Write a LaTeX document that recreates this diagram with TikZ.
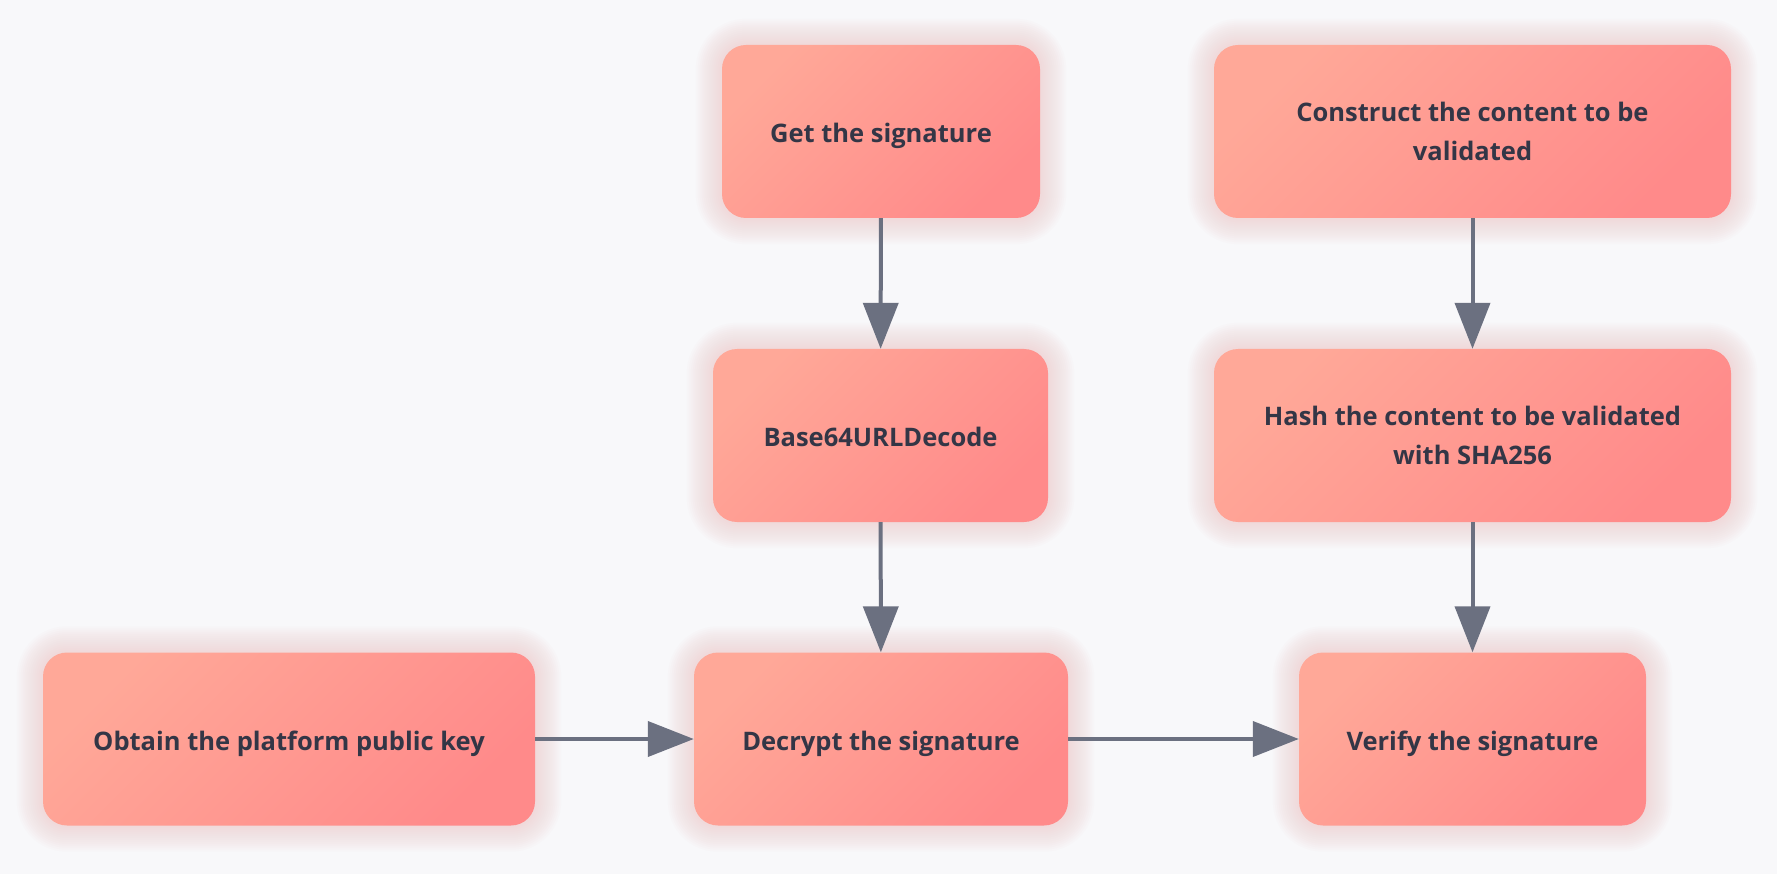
\documentclass[tikz,border=0pt]{standalone}
\usepackage{fontspec}
\setmainfont{Open Sans}
\usetikzlibrary{arrows.meta,backgrounds}
\definecolor{bgc}{HTML}{F8F8FA}
\definecolor{cA}{HTML}{FFA898}
\definecolor{cB}{HTML}{FF8A8A}
\definecolor{txt}{HTML}{333646}
\definecolor{arc}{HTML}{6B7080}
\definecolor{glow}{HTML}{F0B4B4}
\tikzset{
  box/.style={rounded corners=24pt, top color=cA, bottom color=cB, shading angle=45,
    minimum height=173pt, inner sep=0pt, align=center, text=txt,
    font=\fontsize{25.5}{39}\selectfont\bfseries},
  oneline/.style={text height=26pt, text depth=4pt},
  arr/.style={draw=arc, line width=4pt, -{Triangle[length=46pt,width=35pt]}}
}
\begin{document}
\begin{tikzpicture}[x=1pt,y=-1pt]
\useasboundingbox (0,0) rectangle (1777,874);
\node[box, oneline, minimum width=318pt] (get) at (881,131.5) {Get the signature};
\node[box, minimum width=517pt] (con) at (1472.5,131.5) {Construct the content to be\\validated};
\node[box, oneline, minimum width=335pt] (b64) at (880.5,435.5) {Base64URLDecode};
\node[box, minimum width=517pt] (hash) at (1472.5,435.5) {Hash the content to be validated\\with SHA256};
\node[box, oneline, minimum width=492pt] (obt) at (289,739) {Obtain the platform public key};
\node[box, oneline, minimum width=374pt] (dec) at (881,739) {Decrypt the signature};
\node[box, oneline, minimum width=347pt] (ver) at (1472.5,739) {Verify the signature};
\begin{scope}[on background layer]
\fill[bgc] (0,0) rectangle (1777,874);
\foreach \n in {get,con,b64,hash,obt,dec,ver}{
  \foreach \i in {2,4,...,26}{
    \fill[glow, opacity=0.035, rounded corners=24pt+\i pt]
      ([shift={(-\i pt,\i pt)}]\n.north west) rectangle ([shift={(\i pt,-\i pt)}]\n.south east);
  }
}
\end{scope}
\draw[arr] (get) -- (b64);
\draw[arr] (b64) -- (dec);
\draw[arr] (con) -- (hash);
\draw[arr] (hash) -- (ver);
\draw[arr] (obt) -- (dec);
\draw[arr] (dec) -- (ver);
\end{tikzpicture}
\end{document}
